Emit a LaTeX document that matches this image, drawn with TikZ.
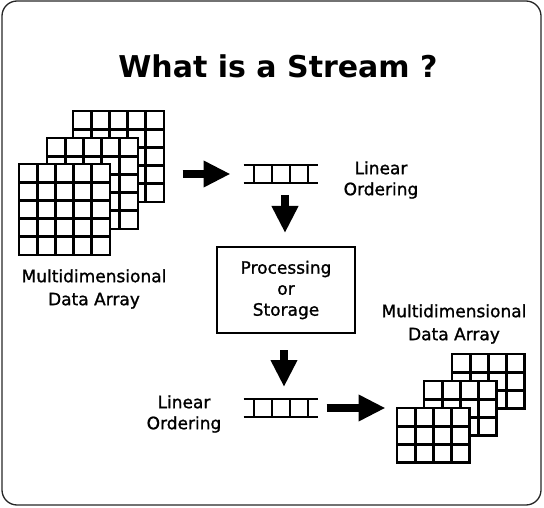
\documentclass[tikz,border=0pt]{standalone}
\usepackage{fontspec}
\setmainfont{DejaVu Sans}
\newfontfamily\labelfont[FakeBold=1.2]{DejaVu Sans}
\usetikzlibrary{
	arrows.meta,
	positioning,
	calc
}

% grid of cells: name, x, y (top left), columns, rows
\newcommand{\cellGrid}[5]{%
	\node[gridbox, minimum width=#4*18.2pt, minimum height=#5*18.2pt] (#1) at (#2,#3) {};
	\foreach \i in {2,...,#4}
		\draw[gridline] ($(#1.north west)+({(\i-1)*18.2},0)$) -- ($(#1.south west)+({(\i-1)*18.2},0)$);
	\foreach \j in {2,...,#5}
		\draw[gridline] ($(#1.north west)+(0,{(\j-1)*18.2})$) -- ($(#1.north east)+(0,{(\j-1)*18.2})$);
}

% ladder of a linear ordering: name, x, y (centre)
\newcommand{\ladder}[3]{%
	\node[inner sep=0pt, outer sep=0pt, minimum width=74pt, minimum height=18pt] (#1) at (#2,#3) {};
	\draw[ladderline] (#1.north west) -- (#1.north east);
	\draw[ladderline] (#1.south west) -- (#1.south east);
	\foreach \k in {-27,-9,9,27}
		\draw[ladderline] ($(#1.north)+(\k,0)$) -- ($(#1.south)+(\k,0)$);
}

\begin{document}
\begin{tikzpicture}[
				x=1pt, y=-1pt,
				gridbox/.style={
					rectangle, draw, fill=white, line width=2.8pt,
					inner sep=0pt, outer sep=0pt, anchor=north west
				},
				gridline/.style={line width=2.8pt},
				ladderline/.style={line width=2pt},
				lbl/.style={
					align=center, inner sep=0pt,
					font=\labelfont\fontsize{17}{21}\selectfont
				},
				procbox/.style={
					rectangle, draw, line width=2pt,
					minimum width=138pt, minimum height=86pt,
					align=center, font=\labelfont\fontsize{17}{21}\selectfont
				},
				bigarrow/.style={-{Triangle[length=27pt,width=25pt]}, line width=8.5pt}
				]
				
				\useasboundingbox (0,0) rectangle (544,508);
				
				% frame
				\draw[rounded corners=15pt, line width=1.3pt, black!85] (2,1) rectangle (541,505);
				
				% title
				\node[anchor=base, font=\bfseries\fontsize{30}{36}\selectfont] (title) at (278,78) {What is a Stream ?};
				
				% input arrays
				\cellGrid{gridInBack}{73}{111}{5}{5}
				\cellGrid{gridInMid}{47}{138}{5}{5}
				\cellGrid{gridInFront}{19}{164}{5}{5}
				\node[lbl] (mdaIn) at (94,289) {Multidimensional\\[2pt]Data Array};
				
				% linear ordering (top)
				\ladder{ladTop}{280.5}{174}
				\node[lbl] (ordTop) at (381,180) {Linear\\Ordering};
				
				% processing
				\node[procbox] (procBox) at (286,290) {Processing\\or\\Storage};
				
				% linear ordering (bottom)
				\ladder{ladBot}{280.5}{408}
				\node[lbl] (ordBot) at (184,414) {Linear\\Ordering};
				
				% output arrays
				\cellGrid{gridOutBack}{452}{354}{4}{3}
				\cellGrid{gridOutMid}{424}{381}{4}{3}
				\cellGrid{gridOutFront}{397}{408}{4}{3}
				\node[lbl] (mdaOut) at (454,324) {Multidimensional\\[2pt]Data Array};
				
				% arrows
				\draw[bigarrow] ($(ladTop.west)+(-61,0)$) -- ($(ladTop.west)+(-13,0)$);
				\draw[bigarrow] ($(procBox.north)+(-1,-51)$) -- ($(procBox.north)+(-1,-13)$);
				\draw[bigarrow] ($(procBox.south)+(-2,16)$) -- ($(ladBot.north)+(3.5,-12)$);
				\draw[bigarrow] ($(ladBot.east)+(9,0)$) -- ($(ladBot.east)+(68,0)$);
			\end{tikzpicture}
\end{document}
